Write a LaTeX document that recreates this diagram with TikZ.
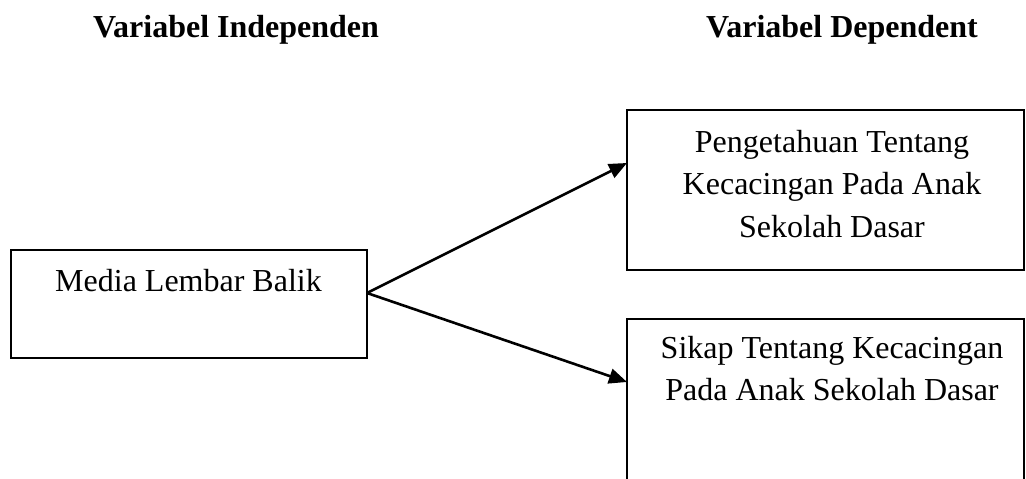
\documentclass[tikz,border=0pt]{standalone}
\usepackage{fontspec}
\setmainfont{Liberation Serif}
\usetikzlibrary{arrows.meta}
\begin{document}
\begin{tikzpicture}[x=1pt,y=-1pt,
  box/.style={draw, line width=2pt, inner sep=0pt, outer sep=0pt, anchor=north west},
  lbl/.style={font=\fontsize{32}{42.5}\selectfont, align=center, inner sep=0pt, outer sep=0pt, anchor=north},
  ttl/.style={font=\fontsize{32}{38}\selectfont\bfseries, inner sep=0pt, anchor=base},
  conn/.style={line width=2.6pt, -{Triangle[length=18pt,width=15pt]}}]
\useasboundingbox (0,0) rectangle (1026,479);
% titles
\node[ttl] (tindep) at (236,37) {Variabel Independen};
\node[ttl] (tdep) at (842,37) {Variabel Dependent};
% boxes
\node[box, minimum width=356pt, minimum height=108pt] (media) at (11,250) {};
\node[box, minimum width=397pt, minimum height=160pt] (pengetahuan) at (627,110) {};
\node[box, minimum width=397pt, minimum height=200pt] (sikap) at (627,319) {};
% texts
\node[lbl] (tmedia) at (188.5,269) {Media Lembar Balik};
\node[lbl] (tpeng) at (832,130) {Pengetahuan Tentang\\Kecacingan Pada Anak\\Sekolah Dasar};
\node[lbl] (tsikap) at (832,336) {Sikap Tentang Kecacingan\\Pada Anak Sekolah Dasar};
% connectors
\coordinate (src) at (367,293);
\coordinate (dst1) at (627,163);
\coordinate (dst2) at (627,382);
\draw[conn] (src) -- (dst1);
\draw[conn] (src) -- (dst2);
\end{tikzpicture}
\end{document}
